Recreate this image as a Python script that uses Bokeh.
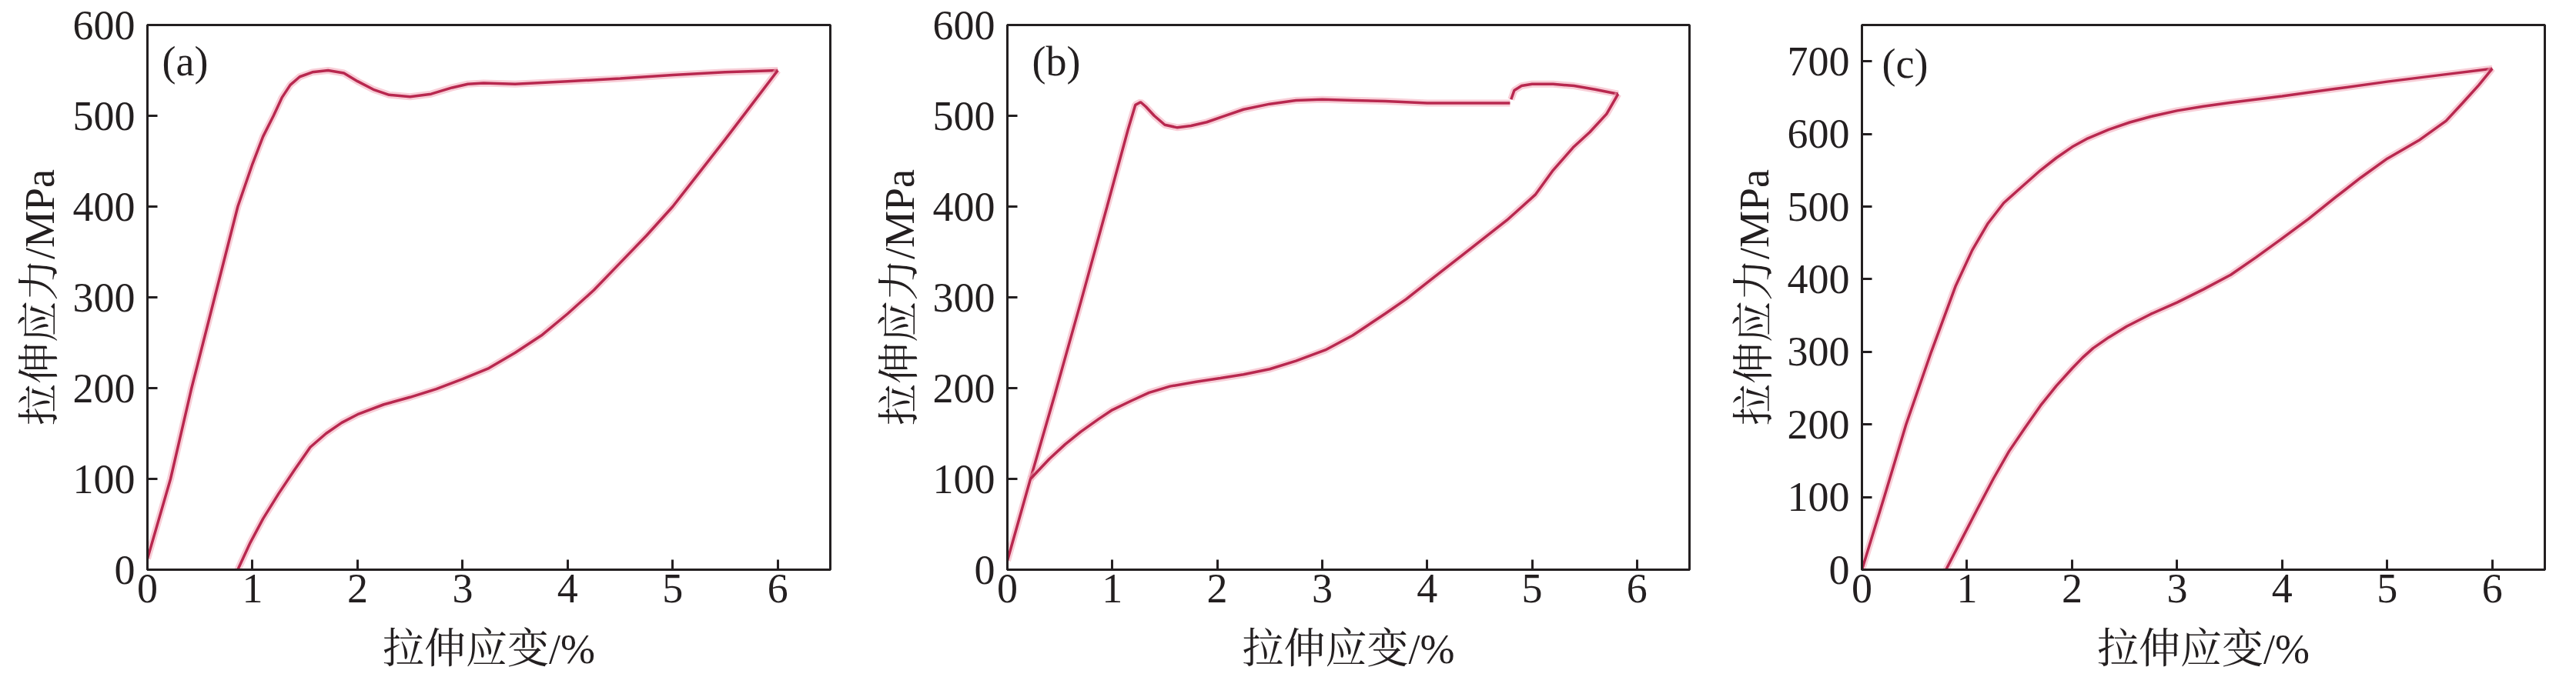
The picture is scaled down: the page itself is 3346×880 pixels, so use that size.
from bokeh.plotting import figure
from bokeh.layouts import row
from bokeh.models import Range1d, FixedTicker, Label
from bokeh.embed import file_html
from bokeh.resources import INLINE

# ---------------- data ----------------
x_label = "拉伸应变/%"
y_label = "拉伸应力/MPa"
panel_tags = ["(a)", "(b)", "(c)"]
x_ticks = [0, 1, 2, 3, 4, 5, 6]
y_ticks_ab = [0, 100, 200, 300, 400, 500, 600]
y_ticks_c = [0, 100, 200, 300, 400, 500, 600, 700]

# (a) loading / unloading
a_load_x = [0, 0.22, 0.42, 0.64, 0.86, 1.0, 1.1, 1.2, 1.28, 1.36, 1.45, 1.57, 1.72, 1.87,
            2.0, 2.15, 2.3, 2.5, 2.7, 2.9, 3.05, 3.2, 3.5, 4.0, 4.5, 5.0, 5.5, 6.0]
a_load_y = [12, 100, 200, 300, 400, 447, 477, 500, 520, 534, 543, 548, 550, 547,
            538, 529, 523, 521, 524, 531, 535, 536, 535, 538, 541, 545, 548, 550]
a_unload_x = [6.0, 5.75, 5.5, 5.25, 5.0, 4.75, 4.5, 4.25, 4.0, 3.75, 3.5, 3.25, 3.0, 2.75, 2.5,
              2.25, 2.0, 1.85, 1.7, 1.55, 1.4, 1.25, 1.1, 0.98, 0.86]
a_unload_y = [550, 512, 474, 437, 400, 368, 338, 308, 282, 258, 239, 222, 210, 199, 190,
              182, 171, 162, 150, 135, 110, 84, 56, 30, 0]

# (b) loading (with a small break near 4.8 %) / unloading
b_load_x = [0, 0.22, 0.45, 0.7, 0.95, 1.15, 1.22, 1.27, 1.32, 1.4, 1.5, 1.62, 1.75, 1.9,
            2.05, 2.25, 2.5, 2.75, 3.0, 3.3, 3.6, 4.0, 4.4, 4.79,
            float("nan"),
            4.8, 4.83, 4.9, 5.0, 5.2, 5.4, 5.6, 5.82]
b_load_y = [10, 100, 192, 295, 400, 485, 512, 515, 510, 500, 490, 487, 489, 493,
            499, 507, 513, 517, 518, 517, 516, 514, 514, 514,
            float("nan"),
            518, 528, 533, 535, 535, 533, 529, 524]
b_unload_x = [5.82, 5.71, 5.55, 5.39, 5.2, 5.03, 4.76, 4.55, 4.34, 4.03, 3.8, 3.6, 3.29, 3.03,
              2.75, 2.5, 2.25, 2.03, 1.8, 1.55, 1.35, 1.18, 1.0, 0.87, 0.7, 0.55, 0.4, 0.22]
b_unload_y = [524, 502, 482, 465, 440, 413, 385, 366, 347, 319, 298, 282, 258, 242,
              230, 221, 215, 211, 207, 202, 195, 186, 176, 166, 152, 138, 122, 100]

# (c) loading / unloading
c_load_x = [0, 0.21, 0.42, 0.66, 0.89, 1.05, 1.2, 1.35, 1.52, 1.7, 1.85, 2.0, 2.15, 2.35, 2.55,
            2.75, 3.0, 3.25, 3.5, 4.0, 4.5, 5.0, 5.5, 6.0]
c_load_y = [0, 99, 200, 300, 390, 440, 477, 505, 527, 550, 567, 582, 594, 606, 616,
            624, 632, 638, 643, 652, 662, 672, 681, 690]
c_unload_x = [6.0, 5.87, 5.72, 5.56, 5.3, 5.0, 4.75, 4.51, 4.25, 3.98, 3.75, 3.51, 3.25, 3.0,
              2.75, 2.52, 2.35, 2.2, 2.1, 2.0, 1.85, 1.7, 1.55, 1.4, 1.25, 1.1, 0.95, 0.8]
c_unload_y = [690, 667, 643, 618, 591, 566, 540, 513, 483, 454, 430, 406, 386, 368,
              352, 335, 320, 305, 292, 277, 253, 226, 195, 163, 125, 84, 42, 0]

# ---------------- style ----------------
INK = "#231f20"
CORE = "#b8284f"
HALO = "#f3a6b6"
FONT = "Liberation Serif, Noto Serif CJK SC, Noto Sans CJK SC"


def make_panel(tag, lx, ly, ux, uy, ymax, yticks, tag_x, tag_y, left, right, fw):
    p = figure(frame_width=fw, frame_height=708,
               min_border_left=left, min_border_right=right,
               min_border_top=32, min_border_bottom=124,
               x_range=Range1d(0, 6.5), y_range=Range1d(0, ymax),
               output_backend="svg", toolbar_location=None,
               background_fill_color="white", border_fill_color="white")
    p.grid.visible = False
    p.outline_line_color = INK
    p.outline_line_width = 3
    p.outline_line_alpha = 1

    for xs, ys in ((lx, ly), (ux, uy)):
        p.line(xs, ys, line_color=HALO, line_width=9, line_alpha=0.55)
        p.line(xs, ys, line_color=CORE, line_width=3.5)

    for ax in (p.xaxis[0], p.yaxis[0]):
        ax.axis_line_color = INK
        ax.axis_line_width = 3
        ax.major_tick_line_color = INK
        ax.major_tick_line_width = 3
        ax.major_tick_in = 13
        ax.major_tick_out = 0
        ax.minor_tick_line_color = None
        ax.major_label_text_font = FONT
        ax.major_label_text_font_size = "54px"
        ax.major_label_text_color = INK
        ax.axis_label_text_font = FONT
        ax.axis_label_text_font_size = "54px"
        ax.axis_label_text_font_style = "normal"
        ax.axis_label_text_color = INK

    p.xaxis.ticker = FixedTicker(ticks=x_ticks)
    p.yaxis.ticker = FixedTicker(ticks=yticks)
    p.xaxis.axis_label = x_label
    p.yaxis.axis_label = y_label
    p.xaxis.major_label_standoff = 6
    p.xaxis.axis_label_standoff = 28
    p.yaxis.major_label_standoff = 16
    p.yaxis.axis_label_standoff = 10

    p.add_layout(Label(x=tag_x, y=tag_y, text=tag, text_font=FONT,
                       text_font_size="54px", text_color=INK,
                       text_baseline="alphabetic", text_align="left"))
    return p


pa = make_panel(panel_tags[0], a_load_x, a_load_y, a_unload_x, a_unload_y,
                600, y_ticks_ab, 0.14, 560, 191, 39, 887)
pb = make_panel(panel_tags[1], b_load_x, b_load_y, b_unload_x, b_unload_y,
                600, y_ticks_ab, 0.235, 560, 191, 33, 886)
pc = make_panel(panel_tags[2], c_load_x, c_load_y, c_unload_x, c_unload_y,
                750, y_ticks_c, 0.19, 697, 191, 25, 887)

layout = row(pa, pb, pc)
open("out.html", "w").write(file_html(layout, INLINE))
